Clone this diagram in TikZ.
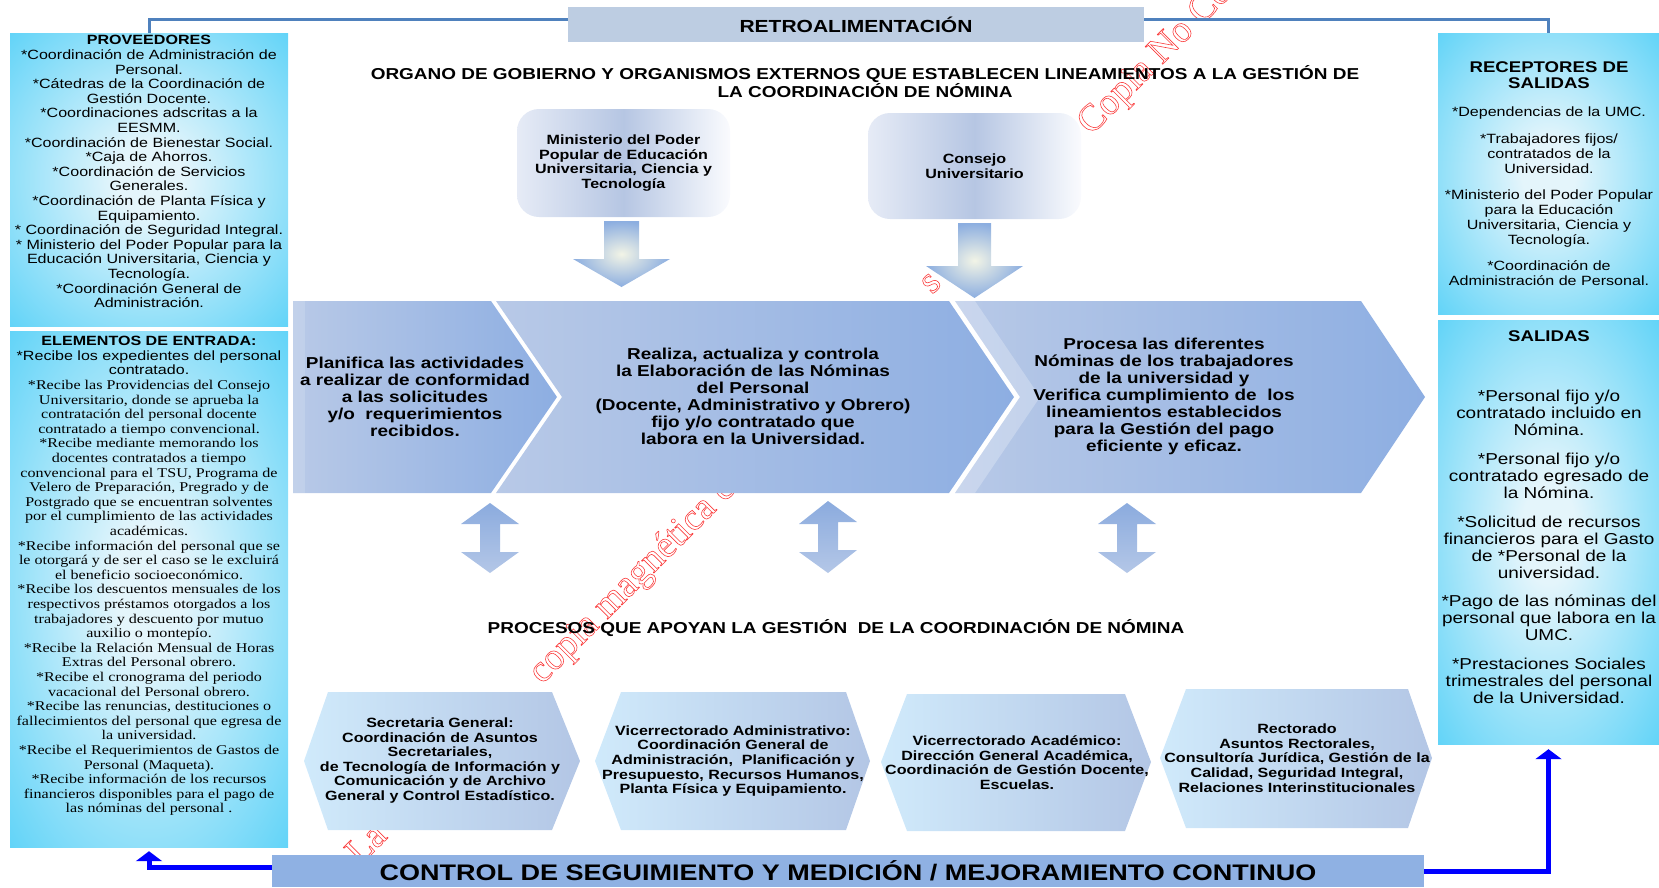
\documentclass[tikz,border=0pt]{standalone}
\usepackage{fontspec}
\setmainfont{Liberation Sans}[FakeStretch=1.2]
\newfontfamily\serf{Liberation Serif}[FakeStretch=1.2]
\newfontfamily\wmf{Liberation Serif}
\usetikzlibrary{arrows.meta}
\definecolor{sbIn}{RGB}{228,245,251}
\definecolor{sbOut}{RGB}{60,202,247}
\definecolor{retro}{RGB}{189,205,226}
\definecolor{fbline}{RGB}{79,129,189}
\definecolor{chevL}{RGB}{184,201,231}
\definecolor{chevR}{RGB}{141,174,226}
\definecolor{hexL}{RGB}{208,234,251}
\definecolor{hexR}{RGB}{179,198,229}
\definecolor{arrIn}{RGB}{242,244,230}
\definecolor{arrOut}{RGB}{140,174,224}
\definecolor{dblTop}{RGB}{139,171,222}
\definecolor{dblBot}{RGB}{180,199,231}
\definecolor{barC}{RGB}{143,177,227}
\definecolor{govL}{RGB}{230,235,246}
\definecolor{govM}{RGB}{182,198,227}
\definecolor{govR}{RGB}{250,251,254}
\definecolor{wmred}{RGB}{250,60,60}
\pgfdeclareradialshading{sideshade}{\pgfpoint{0bp}{0bp}}{color(0bp)=(sbIn); color(6bp)=(sbIn); color(44bp)=(sbOut); color(50bp)=(sbOut)}
\newcommand\fA{\fontsize{13.4}{14.6}\selectfont}
\newcommand\fR{\fontsize{13.4}{15}\selectfont}
\newcommand\fS{\fontsize{15.8}{17}\selectfont}
\newcommand\fT{\fontsize{15.5}{16}\selectfont\bfseries}
\newcommand\fC{\fontsize{15.8}{17}\selectfont\bfseries}
\newcommand\fH{\fontsize{13.4}{14.6}\selectfont\bfseries}
\newcommand\fG{\fontsize{15.8}{17}\selectfont\bfseries}
\newcommand\wmtext[1]{\special{pdf:literal direct 1 Tr 0.6 w}#1\special{pdf:literal direct 0 Tr}}
\tikzset{
  sidebox/.style={shading=sideshade, inner sep=0pt},
  txt/.style={align=center, inner sep=0pt, text=black},
  wm/.style={font=\wmf\fontsize{38}{40}\selectfont, rotate=45, inner sep=0pt, text=wmred, anchor=base west},
  gov/.style={rounded corners=22pt, left color=govL, right color=govR, middle color=govM, align=center, inner sep=0pt, font=\fH},
  chev/.style={left color=chevL, right color=chevR},
  hexa/.style={left color=hexL, right color=hexR},
  blockdown/.style={inner color=arrIn, outer color=arrOut},
  dbl/.style={top color=dblTop, bottom color=dblBot},
  fb/.style={draw=fbline, line width=3pt},
  barrow/.style={draw=blue, line width=5pt, -{Triangle[width=26pt,length=10pt]}},
}
\begin{document}
\begin{tikzpicture}[x=1pt,y=-1pt]
\useasboundingbox (0,0) rectangle (1659,887);
% watermark
\node[wm] (wm1) at (360,866) {\wmtext{La}};
\node[wm] (wm2) at (542,685) {\wmtext{copia magnética c}};
\node[wm] (wm3) at (932,295) {\wmtext{s}};
\node[wm] (wm4) at (1091,136) {\wmtext{Copia No Controlada}};
% side boxes
\node[sidebox, shade, minimum width=278pt, minimum height=293pt] (prov) at (149,179.5) {};
\node[sidebox, shade, minimum width=278pt, minimum height=516pt] (elem) at (149,589) {};
\node[sidebox, shade, minimum width=221pt, minimum height=281pt] (rec) at (1548.5,173.5) {};
\node[sidebox, shade, minimum width=221pt, minimum height=424pt] (sal) at (1548.5,532) {};
% feedback line
\draw[fb] (prov.north) -- ++(0,-13) -| (rec.north);
\node[fill=retro, minimum width=576pt, minimum height=35pt, inner sep=0pt, font=\fontsize{17.5}{18}\selectfont\bfseries] (retro) at (856,24.5) {RETROALIMENTACIÓN};
% side texts
\node[txt, font=\fA] (provt) at (149,171.7) {\textbf{PROVEEDORES}\\{}*Coordinación de Administración de\\Personal.\\{}*Cátedras de la Coordinación de\\Gestión Docente.\\{}*Coordinaciones adscritas a la\\EESMM.\\{}*Coordinación de Bienestar Social.\\{}*Caja de Ahorros.\\{}*Coordinación de Servicios\\Generales.\\{}*Coordinación de Planta Física y\\Equipamiento.\\{}* Coordinación de Seguridad Integral.\\{}* Ministerio del Poder Popular para la\\Educación Universitaria, Ciencia y\\Tecnología.\\{}*Coordinación General de\\Administración.};
\node[txt, font=\fA] (elemt) at (149,576) {\textbf{ELEMENTOS DE ENTRADA:}\\{}*Recibe los expedientes del personal\\contratado.\\
\serf{}*Recibe las Providencias del Consejo\\\serf Universitario, donde se aprueba la\\\serf contratación del personal docente\\\serf contratado a tiempo convencional.\\
\serf{}*Recibe mediante memorando los\\\serf docentes contratados a tiempo\\\serf convencional para el TSU, Programa de\\\serf Velero de Preparación, Pregrado y de\\\serf Postgrado que se encuentran solventes\\\serf por el cumplimiento de las actividades\\\serf académicas.\\
\serf{}*Recibe información del personal que se\\\serf le otorgará y de ser el caso se le excluirá\\\serf el beneficio socioeconómico.\\
\serf{}*Recibe los descuentos mensuales de los\\\serf respectivos préstamos otorgados a los\\\serf trabajadores y descuento por mutuo\\\serf auxilio o montepío.\\
\serf{}*Recibe la Relación Mensual de Horas\\\serf Extras del Personal obrero.\\
\serf{}*Recibe el cronograma del periodo\\\serf vacacional del Personal obrero.\\
\serf{}*Recibe las renuncias, destituciones o\\\serf fallecimientos del personal que egresa de\\\serf la universidad.\\
\serf{}*Recibe el Requerimientos de Gastos de\\\serf Personal (Maqueta).\\
\serf{}*Recibe información de los recursos\\\serf financieros disponibles para el pago de\\\serf las nóminas del personal .};
\node[txt, font=\fT] (rect) at (1549,75) {RECEPTORES DE\\SALIDAS};
\node[txt, font=\fR] (recb) at (1549,196.5) {{}*Dependencias de la UMC.\\[11.3pt]{}*Trabajadores fijos/\\contratados de la\\Universidad.\\[11.3pt]{}*Ministerio del Poder Popular\\para la Educación\\Universitaria, Ciencia y\\Tecnología.\\[11.3pt]{}*Coordinación de\\Administración de Personal.};
\node[txt, font=\fT] (salt) at (1549,336) {SALIDAS};
\node[txt, font=\fS] (salb) at (1549,547) {{}*Personal fijo y/o\\contratado incluido en\\Nómina.\\[11.7pt]{}*Personal fijo y/o\\contratado egresado de\\la Nómina.\\[11.7pt]{}*Solicitud de recursos\\financieros para el Gasto\\de *Personal de la\\universidad.\\[11.7pt]{}*Pago de las nóminas del\\personal que labora en la\\UMC.\\[11.7pt]{}*Prestaciones Sociales\\trimestrales del personal\\de la Universidad.};
% top titles and governing boxes
\node[txt, font=\fG] (govtitle) at (865,81.5) {ORGANO DE GOBIERNO Y ORGANISMOS EXTERNOS QUE ESTABLECEN LINEAMIENTOS A LA GESTIÓN DE\\LA COORDINACIÓN DE NÓMINA};
\node[gov, minimum width=213pt, minimum height=108pt] (mini) at (623.5,163) {Ministerio del Poder\\Popular de Educación\\Universitaria, Ciencia y\\Tecnología};
\node[gov, minimum width=213pt, minimum height=106pt] (cons) at (974.5,166) {Consejo\\Universitario};
% down block arrows
\shade[blockdown] (604,221) -- (639,221) -- (639,259) -- (670,259) -- (621.5,287) -- (573,259) -- (604,259) -- cycle;
\shade[blockdown] (958,223) -- (991,223) -- (991,266) -- (1023,266) -- (974.5,298) -- (926,266) -- (958,266) -- cycle;
% chevrons
\shade[chev] (293,301) -- (491,301) -- (557,397) -- (491,493) -- (293,493) -- cycle;
\shade[chev] (496,301) -- (949,301) -- (1014,397) -- (949,493) -- (496,493) -- (562,397) -- cycle;
\shade[chev] (955,301) -- (1361,301) -- (1425,397) -- (1361,493) -- (955,493) -- (1020,397) -- cycle;
\fill[white, opacity=0.25] (955,301) -- (975,301) -- (1040,397) -- (975,493) -- (955,493) -- (1020,397) -- cycle;
\fill[white, opacity=0.15] (293,301) -- (305,301) -- (305,493) -- (293,493) -- cycle;
\node[txt, font=\fC] (c1t) at (415,396.5) {Planifica las actividades\\a realizar de conformidad\\a las solicitudes\\y/o\ \ requerimientos\\recibidos.};
\node[txt, font=\fC] (c2t) at (753,396.5) {Realiza, actualiza y controla\\la Elaboración de las Nóminas\\del Personal\\(Docente, Administrativo y Obrero)\\fijo y/o contratado que\\labora en la Universidad.};
\node[txt, font=\fC] (c3t) at (1164,396) {Procesa las diferentes\\Nóminas de los trabajadores\\de la universidad y\\Verifica cumplimiento de\ \ los\\lineamientos establecidos\\para la Gestión del pago\\eficiente y eficaz.};
% double arrows
\foreach \cx/\ty in {490/503, 828/501, 1127/503}{
  \shade[dbl] (\cx,\ty) -- ++(29,21) -- ++(-19,0) -- ++(0,28) -- ++(19,0) -- (\cx,573) -- ++(-29,-21) -- ++(19,0) -- ++(0,-28) -- ++(-19,0) -- cycle;
}
\node[txt, font=\fG] (proctitle) at (836,628) {PROCESOS QUE APOYAN LA GESTIÓN\ \ DE LA COORDINACIÓN DE NÓMINA};
% hexagons
\shade[hexa] (328,692) -- (552,692) -- (580,761) -- (552,830) -- (328,830) -- (304,761) -- cycle;
\shade[hexa] (621,692) -- (846,692) -- (870,761) -- (846,830) -- (621,830) -- (595,761) -- cycle;
\shade[hexa] (907,694) -- (1125,694) -- (1151,762) -- (1125,831) -- (907,831) -- (881,762) -- cycle;
\shade[hexa] (1186,689) -- (1408,689) -- (1432,758) -- (1408,828) -- (1186,828) -- (1160,758) -- cycle;
\node[txt, font=\fH] (h1t) at (440,760.5) {Secretaria General:\\Coordinación de Asuntos\\Secretariales,\\de Tecnología de Información y\\Comunicación y de Archivo\\General y Control Estadístico.};
\node[txt, font=\fH] (h2t) at (733,761) {Vicerrectorado Administrativo:\\Coordinación General de\\Administración,\ \ Planificación y\\Presupuesto, Recursos Humanos,\\Planta Física y Equipamiento.};
\node[txt, font=\fH] (h3t) at (1017,762.5) {Vicerrectorado Académico:\\Dirección General Académica,\\Coordinación de Gestión Docente,\\Escuelas.};
\node[txt, font=\fH] (h4t) at (1297,758) {Rectorado\\Asuntos Rectorales,\\Consultoría Jurídica, Gestión de la\\Calidad, Seguridad Integral,\\Relaciones Interinstitucionales};
% bottom bar
\node[fill=barC, minimum width=1152pt, minimum height=32pt, inner sep=0pt, font=\fontsize{22.5}{24}\selectfont\bfseries] (bar) at (848,871) {CONTROL DE SEGUIMIENTO Y MEDICIÓN / MEJORAMIENTO CONTINUO};
% blue return arrows
\draw[barrow] (bar.east) -| ([yshift=-5pt]sal.south);
\draw[barrow] ([yshift=4pt]bar.west) -| ([yshift=-4pt]elem.south);
\end{tikzpicture}
\end{document}
